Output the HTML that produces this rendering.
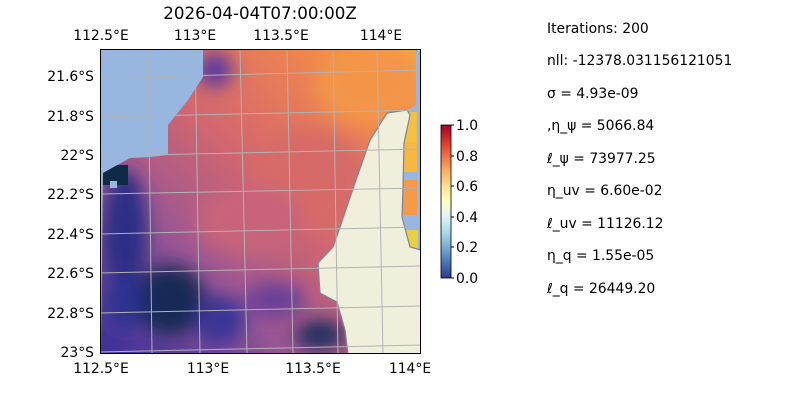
<!DOCTYPE html>
<html><head><meta charset="utf-8"><style>
body{margin:0;background:#fff;width:800px;height:400px;overflow:hidden;font-family:"DejaVu Sans",sans-serif}
</style></head><body>
<svg width="800" height="400" viewBox="0 0 800 400" xmlns="http://www.w3.org/2000/svg" font-family="DejaVu Sans, sans-serif">
<defs>
<clipPath id="map"><rect x="100" y="49" width="321" height="305"/></clipPath>
<clipPath id="data"><polygon points="203,53 203,77 188,100 168,125 168,155 150,157 130,158 103,173 101,354 348,354 345,330 337,302 320,293 318,263 333,247 340,227 357,177 370,140 387,113 407,110 416,105 416,49 203,49"/></clipPath>
<linearGradient id="base" x1="0" y1="1" x2="1" y2="0">
<stop offset="0" stop-color="#3a2f9a"/>
<stop offset="0.3" stop-color="#9a5694"/>
<stop offset="0.55" stop-color="#d4676e"/>
<stop offset="0.8" stop-color="#ee8450"/>
<stop offset="1" stop-color="#f8a840"/>
</linearGradient>
<linearGradient id="cb" x1="0" y1="1" x2="0" y2="0">
<stop offset="0" stop-color="#313695"/><stop offset="0.1" stop-color="#4575b4"/>
<stop offset="0.2" stop-color="#74add1"/><stop offset="0.3" stop-color="#abd9e9"/>
<stop offset="0.4" stop-color="#e0f3f8"/><stop offset="0.5" stop-color="#ffffbf"/>
<stop offset="0.6" stop-color="#fee090"/><stop offset="0.7" stop-color="#fdae61"/>
<stop offset="0.8" stop-color="#f46d43"/><stop offset="0.9" stop-color="#d73027"/>
<stop offset="1" stop-color="#a50026"/></linearGradient>
<filter id="bl"><feGaussianBlur stdDeviation="9"/></filter>
</defs>
<g clip-path="url(#map)">
<rect x="100" y="49" width="321" height="305" fill="#97b6e0"/>
<g clip-path="url(#data)">
<rect x="100" y="49" width="321" height="305" fill="url(#base)"/>
<g filter="url(#bl)">
<ellipse cx="310" cy="180" rx="60" ry="50" fill="#d66a68"/>
<ellipse cx="370" cy="85" rx="55" ry="40" fill="#f39548"/>
<ellipse cx="250" cy="220" rx="55" ry="35" fill="#c8637a"/>
<ellipse cx="125" cy="230" rx="22" ry="60" fill="#2a2d85"/>
<ellipse cx="170" cy="300" rx="35" ry="35" fill="#152a55"/>
<ellipse cx="125" cy="300" rx="18" ry="30" fill="#2a3090"/>
<ellipse cx="220" cy="320" rx="25" ry="25" fill="#3a3595"/>
<ellipse cx="320" cy="335" rx="25" ry="15" fill="#1a2d60"/>
<ellipse cx="215" cy="70" rx="18" ry="18" fill="#5c3aa0"/>
<ellipse cx="275" cy="300" rx="30" ry="18" fill="#6a4098"/>
</g>
<rect x="103" y="165" width="25" height="20" fill="#0e2a44"/>
<rect x="110" y="181" width="7" height="7" fill="#97b6e0"/>
</g>
<rect x="403" y="112" width="14" height="30" fill="#f6c040"/>
<rect x="403" y="142" width="14" height="30" fill="#f6b840"/>
<rect x="400" y="180" width="17" height="35" fill="#f59a48"/>
<rect x="405" y="230" width="13" height="18" fill="#e8d040"/>
<polygon points="387,113 407,110 410,115 404,143 403,187 402,217 410,247 421,250 421,354 348,354 345,330 337,302 320,293 318,263 333,247 340,227 357,177 370,140" fill="#efefdc" stroke="#7f8590" stroke-width="1.2"/>
<g stroke="#b3b3b3" stroke-width="1" fill="none">
<line x1="100" y1="78" x2="421" y2="70"/><line x1="100" y1="117" x2="421" y2="110"/>
<line x1="100" y1="156" x2="421" y2="149"/><line x1="100" y1="194" x2="421" y2="188"/>
<line x1="100" y1="234" x2="421" y2="227"/><line x1="100" y1="273" x2="421" y2="266"/>
<line x1="100" y1="313" x2="421" y2="306"/><line x1="100" y1="352" x2="421" y2="345"/>
<line x1="148" y1="49" x2="152" y2="354"/><line x1="195" y1="49" x2="200" y2="354"/>
<line x1="240" y1="49" x2="247" y2="354"/><line x1="287" y1="49" x2="293" y2="354"/>
<line x1="333" y1="49" x2="338" y2="354"/><line x1="377" y1="49" x2="383" y2="354"/>
</g>
</g>
<rect x="100.5" y="49.5" width="320" height="304" fill="none" stroke="#000" stroke-width="1"/>
<text x="260" y="19" font-size="16.7" text-anchor="middle">2026-04-04T07:00:00Z</text>
<g font-size="13.9" text-anchor="middle">
<text x="101" y="40">112.5°E</text><text x="195" y="40">113°E</text><text x="281" y="40">113.5°E</text><text x="381" y="40">114°E</text>
<text x="101" y="373">112.5°E</text><text x="208" y="373">113°E</text><text x="313" y="373">113.5°E</text><text x="410" y="373">114°E</text>
</g>
<g font-size="13.9" text-anchor="end">
<text x="94" y="81">21.6°S</text><text x="94" y="121">21.8°S</text><text x="94" y="160">22°S</text>
<text x="94" y="199">22.2°S</text><text x="94" y="239">22.4°S</text><text x="94" y="278">22.6°S</text>
<text x="94" y="318">22.8°S</text><text x="94" y="357">23°S</text>
</g>
<rect x="441" y="125" width="10" height="153" fill="url(#cb)" stroke="#000" stroke-width="0.8"/>
<g font-size="13.9">
<text x="456" y="130">1.0</text><text x="456" y="161">0.8</text><text x="456" y="191">0.6</text>
<text x="456" y="222">0.4</text><text x="456" y="252">0.2</text><text x="456" y="283">0.0</text>
</g>
<g stroke="#000"><line x1="451" y1="125" x2="454" y2="125"/><line x1="451" y1="156" x2="454" y2="156"/><line x1="451" y1="186" x2="454" y2="186"/><line x1="451" y1="217" x2="454" y2="217"/><line x1="451" y1="247" x2="454" y2="247"/><line x1="451" y1="278" x2="454" y2="278"/></g>
<g font-size="13.9">
<text x="547" y="33">Iterations: 200</text>
<text x="547" y="65">nll: -12378.031156121051</text>
<text x="547" y="98">σ = 4.93e-09</text>
<text x="547" y="130">,η_ψ = 5066.84</text>
<text x="547" y="163">ℓ_ψ = 73977.25</text>
<text x="547" y="195">η_uv = 6.60e-02</text>
<text x="547" y="228">ℓ_uv = 11126.12</text>
<text x="547" y="260">η_q = 1.55e-05</text>
<text x="547" y="293">ℓ_q = 26449.20</text>
</g>
</svg>
</body></html>
